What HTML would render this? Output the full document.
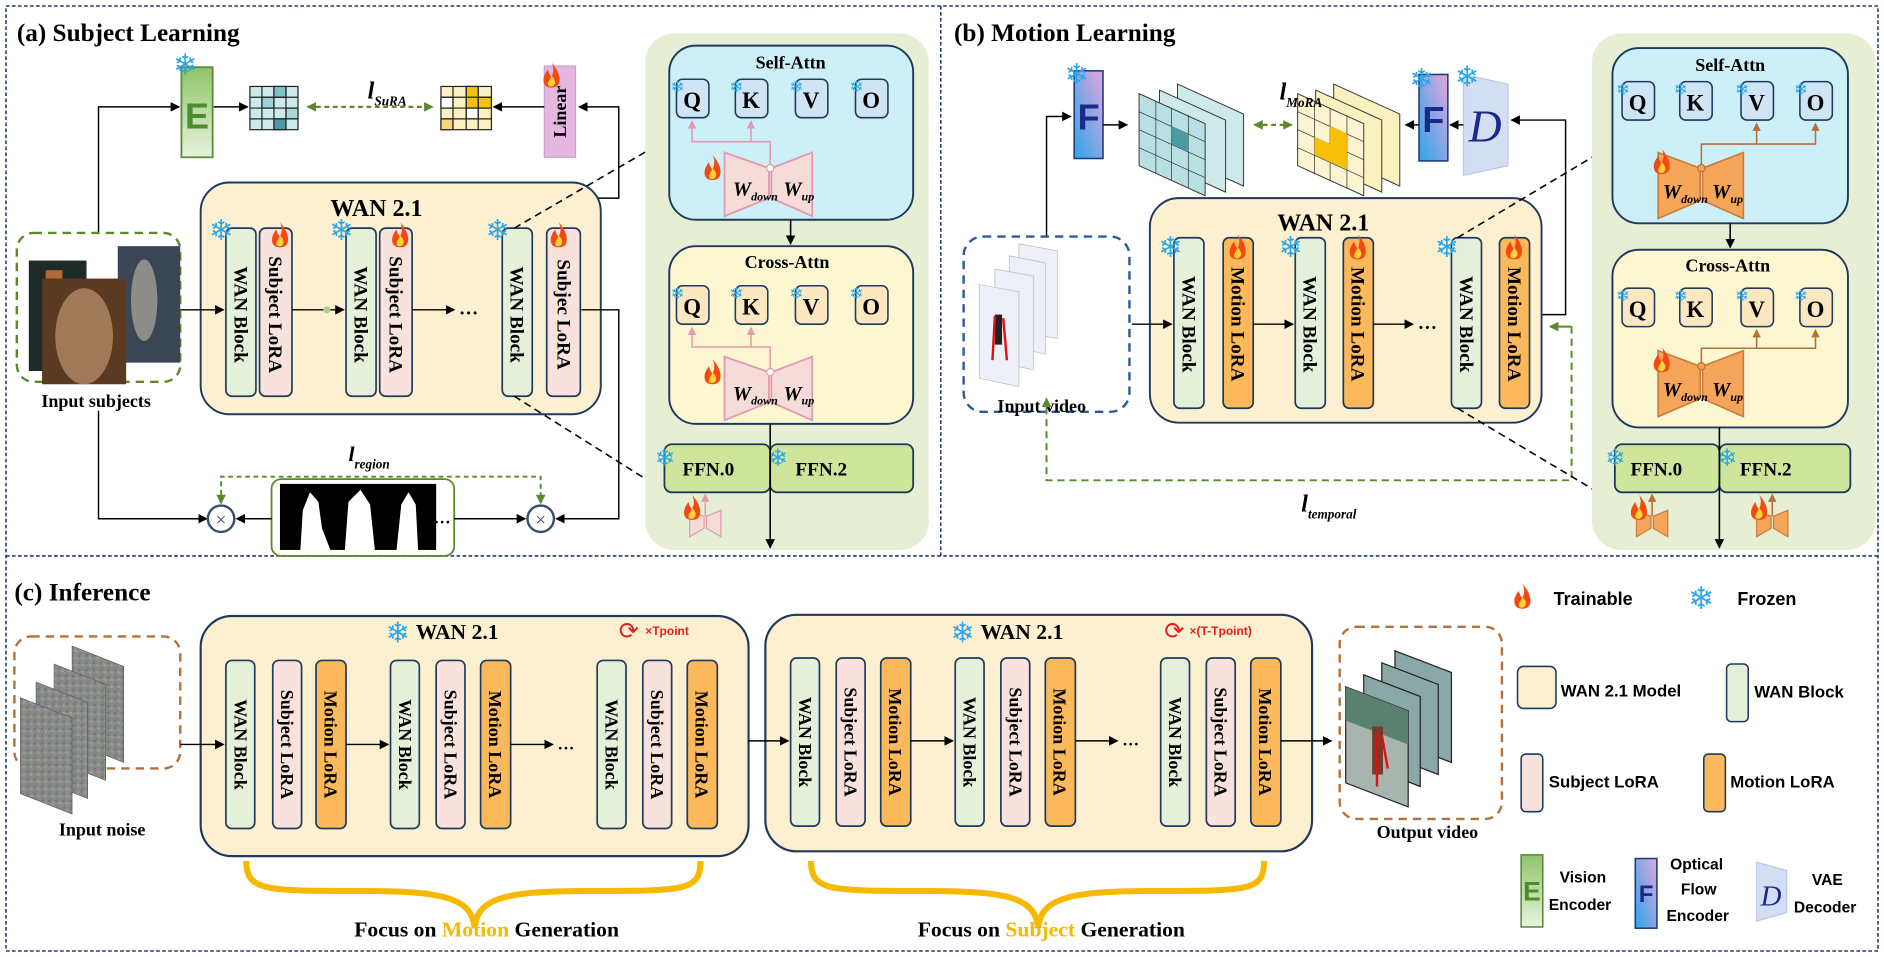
<!DOCTYPE html>
<html><head><meta charset="utf-8">
<style>
html,body{margin:0;padding:0;background:#fff;}
svg{display:block;}
.t{font-family:"Liberation Serif",serif;font-weight:bold;}
.s{font-family:"Liberation Sans",sans-serif;font-weight:bold;}
.sn{font-family:"DejaVu Sans",sans-serif;fill:#2aa6ea;}
</style></head><body>
<svg width="1884" height="957" viewBox="0 0 1568 797" preserveAspectRatio="none" xmlns="http://www.w3.org/2000/svg">
<defs>
<marker id="ar" markerWidth="8" markerHeight="8" refX="7" refY="4" orient="auto" markerUnits="userSpaceOnUse"><path d="M0,0 L8,4 L0,8 z" fill="#000"/></marker>
<marker id="ag" markerWidth="8" markerHeight="8" refX="7" refY="4" orient="auto-start-reverse" markerUnits="userSpaceOnUse"><path d="M0,0 L8,4 L0,8 z" fill="#5a8a2a"/></marker>
<marker id="ap" markerWidth="7" markerHeight="7" refX="6" refY="3.5" orient="auto" markerUnits="userSpaceOnUse"><path d="M0,0 L7,3.5 L0,7 z" fill="#e39ab0"/></marker>
<marker id="ao" markerWidth="7" markerHeight="7" refX="6" refY="3.5" orient="auto" markerUnits="userSpaceOnUse"><path d="M0,0 L7,3.5 L0,7 z" fill="#b8703a"/></marker>
<g id="fl"><path d="M0,-11 C6,-4 8,2 6,7 C4,11 -4,11 -6,7 C-8,2 -5,-2 -3,-5 C-2,-1 -1,0 0,1 C2,-3 2,-7 0,-11z" fill="#f24a12"/><path d="M0,0 C3,3 4,6 2,8 C0,10 -3,9 -3,7 C-3,5 -1,3 0,0z" fill="#ffd23a"/></g>
<linearGradient id="gF" x1="0" y1="1" x2="1" y2="0"><stop offset="0" stop-color="#2aa6ea"/><stop offset="1" stop-color="#e4a6dc"/></linearGradient>
<linearGradient id="gE" x1="0" y1="0" x2="0" y2="1"><stop offset="0" stop-color="#8fc46a"/><stop offset="1" stop-color="#e8f3dc"/></linearGradient>
<pattern id="noise" width="6" height="6" patternUnits="userSpaceOnUse"><rect width="6" height="6" fill="#8a8a8a"/><rect x="0" y="0" width="2" height="2" fill="#6a7a8a"/><rect x="3" y="2" width="2" height="2" fill="#a49a90"/><rect x="1" y="4" width="2" height="2" fill="#7a8a70"/></pattern>
</defs>

<rect x="5" y="5" width="1558" height="787" fill="none" stroke="#223a66" stroke-width="1.3" stroke-dasharray="3,2"/>
<line x1="5" y1="463" x2="1563" y2="463" stroke="#223a66" stroke-width="1.3" stroke-dasharray="3,2"/>
<line x1="783" y1="5" x2="783" y2="463" stroke="#223a66" stroke-width="1.3" stroke-dasharray="3,2"/>

<!-- ============ (a) ============ -->
<text x="14" y="34" class="t" font-size="21">(a)  Subject Learning</text>
<rect x="151" y="56" width="26" height="75" fill="url(#gE)" stroke="#5a8a3a" stroke-width="1.5"/>
<text x="164" y="107" class="s" font-size="30" fill="#4e8a2e" text-anchor="middle">E</text>
<text x="144" y="62" class="sn" font-size="24">❄</text>
<g stroke="#222" stroke-width="1">
<rect x="208" y="72" width="40" height="36" fill="#cde9ea"/>
<rect x="228" y="72" width="10" height="9" fill="#7cc4c8"/><rect x="238" y="90" width="10" height="9" fill="#a8d8da"/><rect x="218" y="81" width="10" height="9" fill="#9bd0d4"/><rect x="228" y="99" width="10" height="9" fill="#4a9ca0"/>
<line x1="218" y1="72" x2="218" y2="108"/><line x1="228" y1="72" x2="228" y2="108"/><line x1="238" y1="72" x2="238" y2="108"/>
<line x1="208" y1="81" x2="248" y2="81"/><line x1="208" y1="90" x2="248" y2="90"/><line x1="208" y1="99" x2="248" y2="99"/>
</g>
<g stroke="#222" stroke-width="1">
<rect x="367" y="72" width="42" height="36" fill="#fbf0c0"/>
<rect x="388" y="72" width="10" height="18" fill="#f7c10a"/><rect x="367" y="99" width="10" height="9" fill="#f5d57a"/><rect x="398" y="81" width="11" height="9" fill="#f7c10a"/><rect x="367" y="81" width="10" height="9" fill="#fff"/><rect x="388" y="90" width="10" height="9" fill="#fff"/>
<line x1="377" y1="72" x2="377" y2="108"/><line x1="388" y1="72" x2="388" y2="108"/><line x1="398" y1="72" x2="398" y2="108"/>
<line x1="367" y1="81" x2="409" y2="81"/><line x1="367" y1="90" x2="409" y2="90"/><line x1="367" y1="99" x2="409" y2="99"/>
</g>
<text x="306" y="82" class="t" font-size="20" font-style="italic" font-weight="normal">l<tspan font-size="11" dy="6">SuRA</tspan></text>
<line x1="256" y1="89" x2="360" y2="89" stroke="#5a8a2a" stroke-width="1.8" stroke-dasharray="4,3" marker-start="url(#ag)" marker-end="url(#ag)"/>
<rect x="453" y="55" width="26" height="76" fill="#e4b6e0" stroke="#c8a0c8"/>
<text transform="translate(466,93) rotate(-90)" class="t" font-size="15" text-anchor="middle" dy="5">Linear</text>
<use href="#fl" x="459" y="63"/>
<line x1="453" y1="89" x2="411" y2="89" stroke="#000" stroke-width="1.2" marker-end="url(#ar)"/>
<line x1="178" y1="89" x2="206" y2="89" stroke="#000" stroke-width="1.2" marker-end="url(#ar)"/>
<polyline points="82,195 82,89 149,89" fill="none" stroke="#000" stroke-width="1.2" marker-end="url(#ar)"/>
<polyline points="272,258 272,165 515,165 515,89 482,89" fill="none" stroke="#000" stroke-width="1.2" marker-end="url(#ar)"/>
<rect x="167" y="152" width="333" height="193" rx="24" fill="#fdf0d0" stroke="#1f3a5c" stroke-width="1.6"/>
<text x="275" y="180" class="t" font-size="20">WAN 2.1</text>
<g stroke="#1f3a5c" stroke-width="1.4">
<rect x="188" y="190" width="25" height="140" rx="5" fill="#e5f0db"/>
<rect x="216" y="190" width="27" height="140" rx="5" fill="#f8e2de"/>
<rect x="288" y="190" width="25" height="140" rx="5" fill="#e5f0db"/>
<rect x="316" y="190" width="27" height="140" rx="5" fill="#f8e2de"/>
<rect x="418" y="190" width="25" height="140" rx="5" fill="#e5f0db"/>
<rect x="455" y="190" width="28" height="140" rx="5" fill="#f8e2de"/>
</g>
<g class="t" font-size="16" text-anchor="middle">
<text transform="translate(200,262) rotate(90)" dy="5">WAN Block</text>
<text transform="translate(229,262) rotate(90)" dy="5">Subject LoRA</text>
<text transform="translate(300,262) rotate(90)" dy="5">WAN Block</text>
<text transform="translate(329,262) rotate(90)" dy="5">Subject LoRA</text>
<text transform="translate(430,262) rotate(90)" dy="5">WAN Block</text>
<text transform="translate(469,262) rotate(90)" dy="5">Subjec LoRA</text>
</g>
<text x="174" y="200" class="sn" font-size="24">❄</text><use href="#fl" x="233" y="196"/>
<text x="274" y="200" class="sn" font-size="24">❄</text><use href="#fl" x="333" y="196"/>
<text x="404" y="200" class="sn" font-size="24">❄</text><use href="#fl" x="465" y="196"/>
<line x1="150" y1="258" x2="186" y2="258" stroke="#000" stroke-width="1.2" marker-end="url(#ar)"/>
<line x1="243" y1="258" x2="286" y2="258" stroke="#000" stroke-width="1.2" marker-end="url(#ar)"/>
<line x1="343" y1="258" x2="378" y2="258" stroke="#000" stroke-width="1.2" marker-end="url(#ar)"/>
<text x="382" y="262" class="t" font-size="16">…</text>
<circle cx="272" cy="258" r="3" fill="#9fd88a"/>
<rect x="14" y="194" width="136" height="124" rx="14" fill="none" stroke="#5a8a2a" stroke-width="2" stroke-dasharray="7,5"/>
<rect x="98" y="205" width="52" height="97" fill="#3a4654"/><ellipse cx="120" cy="250" rx="11" ry="34" fill="#8c8c88"/>
<rect x="24" y="217" width="48" height="92" fill="#1e2a2a"/><rect x="38" y="225" width="14" height="70" fill="#b06a30"/>
<rect x="35" y="232" width="70" height="88" fill="#5a3a20"/><ellipse cx="70" cy="280" rx="24" ry="40" fill="#a07a58"/>
<text x="80" y="339" class="t" font-size="15" text-anchor="middle">Input subjects</text>
<polyline points="82,342 82,432 172,432" fill="none" stroke="#000" stroke-width="1.2" marker-end="url(#ar)"/>
<circle cx="184" cy="432" r="11" fill="#fff" stroke="#3a4e6a" stroke-width="2"/>
<text x="184" y="438" font-size="16" text-anchor="middle" fill="#3a4e6a">×</text>
<circle cx="450" cy="432" r="11" fill="#fff" stroke="#3a4e6a" stroke-width="2"/>
<text x="450" y="438" font-size="16" text-anchor="middle" fill="#3a4e6a">×</text>
<rect x="226" y="399" width="152" height="64" rx="8" fill="#fff" stroke="#5a8a2a" stroke-width="1.5"/>
<rect x="233" y="403" width="130" height="55" fill="#000"/>
<path d="M250,458 L252,425 L258,410 L265,418 L268,440 L275,458z M287,458 L290,418 L300,408 L308,420 L312,458z M330,458 L334,420 L340,410 L346,420 L348,458z" fill="#fff"/>
<text x="361" y="436" class="t" font-size="14">…</text>
<line x1="226" y1="432" x2="197" y2="432" stroke="#000" stroke-width="1.2" marker-end="url(#ar)"/>
<line x1="378" y1="432" x2="437" y2="432" stroke="#000" stroke-width="1.2" marker-end="url(#ar)"/>
<polyline points="484,258 515,258 515,432 463,432" fill="none" stroke="#000" stroke-width="1.2" marker-end="url(#ar)"/>
<polyline points="184,419 184,397 450,397 450,419" fill="none" stroke="#5a8a2a" stroke-width="1.6" stroke-dasharray="4,3" marker-start="url(#ag)" marker-end="url(#ag)"/>
<text x="290" y="384" class="t" font-size="18" font-style="italic" font-weight="normal">l<tspan font-size="11" dy="6">region</tspan></text>
<line x1="428" y1="190" x2="545" y2="122" stroke="#000" stroke-width="1.3" stroke-dasharray="6,4"/>
<line x1="428" y1="330" x2="555" y2="410" stroke="#000" stroke-width="1.3" stroke-dasharray="6,4"/>
<!-- right detail a -->
<rect x="537" y="28" width="236" height="430" rx="24" fill="#e6eed4"/>
<rect x="557" y="38" width="203" height="145" rx="22" fill="#cdf0f8" stroke="#1f3a5c" stroke-width="1.6"/>
<text x="658" y="57" class="t" font-size="15" text-anchor="middle">Self-Attn</text>
<rect x="557" y="205" width="203" height="148" rx="22" fill="#fcf7d0" stroke="#1f3a5c" stroke-width="1.6"/>
<text x="655" y="223" class="t" font-size="15" text-anchor="middle">Cross-Attn</text>
<g stroke="#1f3a5c" stroke-width="1.3">
<rect x="563" y="66" width="27" height="32" rx="5" fill="#cfe4f5"/><rect x="612" y="66" width="27" height="32" rx="5" fill="#cfe4f5"/><rect x="662" y="66" width="27" height="32" rx="5" fill="#cfe4f5"/><rect x="712" y="66" width="27" height="32" rx="5" fill="#cfe4f5"/>
<rect x="563" y="238" width="27" height="32" rx="5" fill="#fbe7c0"/><rect x="612" y="238" width="27" height="32" rx="5" fill="#fbe7c0"/><rect x="662" y="238" width="27" height="32" rx="5" fill="#fbe7c0"/><rect x="712" y="238" width="27" height="32" rx="5" fill="#fbe7c0"/>
</g>
<g class="t" font-size="19" text-anchor="middle" font-weight="normal">
<text x="576" y="90">Q</text><text x="625" y="90">K</text><text x="675" y="90">V</text><text x="725" y="90">O</text>
<text x="576" y="262">Q</text><text x="625" y="262">K</text><text x="675" y="262">V</text><text x="725" y="262">O</text>
</g>
<g font-size="14"><text x="558" y="77" class="sn">❄</text><text x="607" y="77" class="sn">❄</text><text x="657" y="77" class="sn">❄</text><text x="707" y="77" class="sn">❄</text>
<text x="558" y="249" class="sn">❄</text><text x="607" y="249" class="sn">❄</text><text x="657" y="249" class="sn">❄</text><text x="707" y="249" class="sn">❄</text></g>
<g fill="#f6dcd8" stroke="#e39ab0" stroke-width="1.5">
<path d="M603,127 L640,140 L640,165 L603,180z"/>
<path d="M642,140 L676,127 L676,180 L642,165z"/>
<path d="M603,297 L640,310 L640,335 L603,350z"/>
<path d="M642,310 L676,297 L676,350 L642,335z"/>
</g>
<polyline points="641,138 641,118 576,118 576,101" fill="none" stroke="#e39ab0" stroke-width="1.3" marker-end="url(#ap)"/>
<line x1="625" y1="118" x2="625" y2="101" stroke="#e39ab0" stroke-width="1.3" marker-end="url(#ap)"/>
<polyline points="641,308 641,289 576,289 576,273" fill="none" stroke="#e39ab0" stroke-width="1.3" marker-end="url(#ap)"/>
<line x1="625" y1="289" x2="625" y2="273" stroke="#e39ab0" stroke-width="1.3" marker-end="url(#ap)"/>
<circle cx="641" cy="140" r="3" fill="#fff" stroke="#e39ab0"/><circle cx="641" cy="310" r="3" fill="#fff" stroke="#e39ab0"/>
<g class="t" font-style="italic" font-weight="normal" font-size="17">
<text x="610" y="163">W<tspan font-size="10" dy="4">down</tspan></text><text x="652" y="163">W<tspan font-size="10" dy="4">up</tspan></text>
<text x="610" y="333">W<tspan font-size="10" dy="4">down</tspan></text><text x="652" y="333">W<tspan font-size="10" dy="4">up</tspan></text>
</g>
<use href="#fl" x="593" y="140"/><use href="#fl" x="593" y="310"/>
<line x1="658" y1="183" x2="658" y2="203" stroke="#000" stroke-width="1.3" marker-end="url(#ar)"/>
<rect x="553" y="370" width="88" height="40" rx="6" fill="#cfe59c" stroke="#1f3a5c" stroke-width="1.5"/>
<rect x="641" y="370" width="119" height="40" rx="6" fill="#cfe59c" stroke="#1f3a5c" stroke-width="1.5"/>
<text x="568" y="396" class="t" font-size="16">FFN.0</text><text x="662" y="396" class="t" font-size="16">FFN.2</text>
<text x="545" y="388" class="sn" font-size="20">❄</text><text x="639" y="388" class="sn" font-size="20">❄</text>
<line x1="641" y1="353" x2="641" y2="456" stroke="#000" stroke-width="1.3" marker-end="url(#ar)"/>
<path d="M574,425 L586,430 L586,440 L574,447z M588,430 L600,425 L600,447 L588,440z" fill="#f6dcd8" stroke="#e39ab0"/>
<line x1="587" y1="430" x2="587" y2="412" stroke="#e39ab0" stroke-width="1.3" marker-end="url(#ap)"/>
<use href="#fl" x="576" y="423"/>

<!-- ============ (b) ============ -->
<text x="794" y="34" class="t" font-size="21">(b)  Motion Learning</text>
<rect x="894" y="59" width="24" height="73" fill="url(#gF)" stroke="#1f3a7c" stroke-width="1.3"/>
<text x="906" y="108" class="s" font-size="30" fill="#1a2a8a" text-anchor="middle">F</text>
<text x="886" y="70" class="sn" font-size="24">❄</text>
<polyline points="871,197 871,97 891,97" fill="none" stroke="#000" stroke-width="1.2" marker-end="url(#ar)"/>
<line x1="918" y1="104" x2="938" y2="104" stroke="#000" stroke-width="1.2" marker-end="url(#ar)"/>
<g stroke="#333" stroke-width="0.8">
<path d="M980,70 L1035,95 L1035,155 L980,130z" fill="#cde9ea"/>
<path d="M965,80 L1020,105 L1020,165 L965,140z" fill="#cde9ea" transform="translate(0,-5)"/>
<path d="M948,88 L1003,113 L1003,173 L948,148z" fill="#b8e0e2" transform="translate(0,-10)"/>
</g>
<g stroke="#333" stroke-width="0.6" fill="none">
<path d="M948,93 L1003,118 M948,108 L1003,133 M948,123 L1003,148 M962,84 L962,145 M975,90 L975,150 M989,96 L989,157"/>
</g>
<path d="M975,105 L989,111 L989,126 L975,120z" fill="#4a9ca0"/>
<g stroke="#333" stroke-width="0.8">
<path d="M1110,70 L1165,95 L1165,155 L1110,130z" fill="#fbf0c0"/>
<path d="M1095,80 L1150,105 L1150,165 L1095,140z" fill="#fbf0c0" transform="translate(0,-5)"/>
<path d="M1080,88 L1135,113 L1135,173 L1080,148z" fill="#fcf4d0" transform="translate(0,-10)"/>
</g>
<g stroke="#333" stroke-width="0.6" fill="none">
<path d="M1080,93 L1135,118 M1080,108 L1135,133 M1080,123 L1135,148 M1094,84 L1094,145 M1107,90 L1107,150 M1121,96 L1121,157"/>
</g>
<path d="M1107,105 L1121,111 L1121,141 L1107,135z M1094,114 L1107,120 L1107,135 L1094,129z" fill="#f7c10a"/>
<text x="1065" y="83" class="t" font-size="20" font-style="italic" font-weight="normal">l<tspan font-size="11" dy="6">MoRA</tspan></text>
<line x1="1044" y1="104" x2="1075" y2="104" stroke="#5a8a2a" stroke-width="1.8" stroke-dasharray="4,3" marker-start="url(#ag)" marker-end="url(#ag)"/>
<rect x="1181" y="62" width="24" height="72" fill="url(#gF)" stroke="#1f3a7c" stroke-width="1.3"/>
<text x="1193" y="110" class="s" font-size="30" fill="#1a2a8a" text-anchor="middle">F</text>
<text x="1173" y="74" class="sn" font-size="24">❄</text>
<path d="M1218,62 L1255,70 L1255,138 L1218,146z" fill="#d4def2" stroke="#b8c8e0"/>
<text x="1236" y="118" font-family="Liberation Serif,serif" font-style="italic" font-size="38" fill="#1a2a8a" text-anchor="middle">D</text>
<text x="1211" y="72" class="sn" font-size="24">❄</text>
<line x1="1218" y1="104" x2="1207" y2="104" stroke="#000" stroke-width="1.2" marker-end="url(#ar)"/>
<line x1="1181" y1="104" x2="1170" y2="104" stroke="#000" stroke-width="1.2" marker-end="url(#ar)"/>
<polyline points="1283,262 1303,262 1303,100 1258,100" fill="none" stroke="#000" stroke-width="1.2" marker-end="url(#ar)"/>
<rect x="802" y="197" width="138" height="146" rx="16" fill="none" stroke="#2d5a9a" stroke-width="2" stroke-dasharray="7,5"/>
<g stroke="#bbb" stroke-width="0.6">
<path d="M848,203 L880,209 L880,282 L848,276z" fill="#eef0f8"/>
<path d="M840,213 L870,219 L870,295 L840,288z" fill="#eef0f8"/>
<path d="M828,224 L860,230 L860,308 L828,301z" fill="#eef0f8"/>
<path d="M815,237 L848,243 L848,322 L815,315z" fill="#eef0f8"/>
</g>
<rect x="828" y="262" width="6" height="25" fill="#222"/>
<path d="M828,263 L826,300 M835,265 L838,300" stroke="#e01010" stroke-width="2" fill="none"/>
<text x="867" y="343" class="t" font-size="15" text-anchor="middle">Input video</text>
<rect x="957" y="165" width="326" height="187" rx="24" fill="#fdf0d0" stroke="#1f3a5c" stroke-width="1.6"/>
<text x="1063" y="192" class="t" font-size="20">WAN 2.1</text>
<g stroke="#1f3a5c" stroke-width="1.4">
<rect x="977" y="198" width="25" height="142" rx="5" fill="#e5f0db"/>
<rect x="1018" y="198" width="25" height="142" rx="5" fill="#fbb95c"/>
<rect x="1078" y="198" width="25" height="142" rx="5" fill="#e5f0db"/>
<rect x="1118" y="198" width="25" height="142" rx="5" fill="#fbb95c"/>
<rect x="1208" y="198" width="25" height="142" rx="5" fill="#e5f0db"/>
<rect x="1248" y="198" width="25" height="142" rx="5" fill="#fbb95c"/>
</g>
<g class="t" font-size="16" text-anchor="middle">
<text transform="translate(989,270) rotate(90)" dy="5">WAN Block</text>
<text transform="translate(1030,270) rotate(90)" dy="5">Motion LoRA</text>
<text transform="translate(1090,270) rotate(90)" dy="5">WAN Block</text>
<text transform="translate(1130,270) rotate(90)" dy="5">Motion LoRA</text>
<text transform="translate(1220,270) rotate(90)" dy="5">WAN Block</text>
<text transform="translate(1260,270) rotate(90)" dy="5">Motion LoRA</text>
</g>
<text x="964" y="214" class="sn" font-size="24">❄</text><use href="#fl" x="1030" y="206"/>
<text x="1064" y="214" class="sn" font-size="24">❄</text><use href="#fl" x="1130" y="206"/>
<text x="1194" y="214" class="sn" font-size="24">❄</text><use href="#fl" x="1260" y="206"/>
<line x1="942" y1="270" x2="975" y2="270" stroke="#000" stroke-width="1.2" marker-end="url(#ar)"/>
<line x1="1043" y1="270" x2="1076" y2="270" stroke="#000" stroke-width="1.2" marker-end="url(#ar)"/>
<line x1="1143" y1="270" x2="1176" y2="270" stroke="#000" stroke-width="1.2" marker-end="url(#ar)"/>
<text x="1180" y="274" class="t" font-size="16">…</text>
<polyline points="1308,272 1308,400 871,400 871,332" fill="none" stroke="#5a8a2a" stroke-width="1.6" stroke-dasharray="6,4" marker-end="url(#ag)"/>
<line x1="1308" y1="272" x2="1290" y2="272" stroke="#5a8a2a" stroke-width="1.6" marker-end="url(#ag)"/>
<text x="1083" y="426" class="t" font-size="20" font-style="italic" font-weight="normal">l<tspan font-size="11" dy="6">temporal</tspan></text>
<line x1="1213" y1="198" x2="1330" y2="128" stroke="#000" stroke-width="1.3" stroke-dasharray="6,4"/>
<line x1="1213" y1="340" x2="1330" y2="410" stroke="#000" stroke-width="1.3" stroke-dasharray="6,4"/>
<rect x="1325" y="28" width="236" height="430" rx="24" fill="#e6eed4"/>
<rect x="1342" y="40" width="196" height="146" rx="22" fill="#cdf0f8" stroke="#1f3a5c" stroke-width="1.6"/>
<text x="1440" y="59" class="t" font-size="15" text-anchor="middle">Self-Attn</text>
<rect x="1342" y="208" width="196" height="148" rx="22" fill="#fcf7d0" stroke="#1f3a5c" stroke-width="1.6"/>
<text x="1438" y="226" class="t" font-size="15" text-anchor="middle">Cross-Attn</text>
<g stroke="#1f3a5c" stroke-width="1.3">
<rect x="1350" y="68" width="27" height="32" rx="5" fill="#cfe4f5"/><rect x="1398" y="68" width="27" height="32" rx="5" fill="#cfe4f5"/><rect x="1449" y="68" width="27" height="32" rx="5" fill="#cfe4f5"/><rect x="1498" y="68" width="27" height="32" rx="5" fill="#cfe4f5"/>
<rect x="1350" y="240" width="27" height="32" rx="5" fill="#fbe7c0"/><rect x="1398" y="240" width="27" height="32" rx="5" fill="#fbe7c0"/><rect x="1449" y="240" width="27" height="32" rx="5" fill="#fbe7c0"/><rect x="1498" y="240" width="27" height="32" rx="5" fill="#fbe7c0"/>
</g>
<g class="t" font-size="19" text-anchor="middle" font-weight="normal">
<text x="1363" y="92">Q</text><text x="1411" y="92">K</text><text x="1462" y="92">V</text><text x="1511" y="92">O</text>
<text x="1363" y="264">Q</text><text x="1411" y="264">K</text><text x="1462" y="264">V</text><text x="1511" y="264">O</text>
</g>
<g font-size="14"><text x="1345" y="79" class="sn">❄</text><text x="1393" y="79" class="sn">❄</text><text x="1444" y="79" class="sn">❄</text><text x="1493" y="79" class="sn">❄</text>
<text x="1345" y="251" class="sn">❄</text><text x="1393" y="251" class="sn">❄</text><text x="1444" y="251" class="sn">❄</text><text x="1493" y="251" class="sn">❄</text></g>
<g fill="#f5a55a" stroke="#c87a3a" stroke-width="1.3">
<path d="M1380,127 L1415,140 L1415,167 L1380,182z"/><path d="M1417,140 L1451,127 L1451,182 L1417,167z"/>
<path d="M1380,292 L1415,305 L1415,332 L1380,347z"/><path d="M1417,305 L1451,292 L1451,347 L1417,332z"/>
</g>
<polyline points="1416,138 1416,120 1511,120 1511,103" fill="none" stroke="#b8703a" stroke-width="1.3" marker-end="url(#ao)"/>
<line x1="1462" y1="120" x2="1462" y2="103" stroke="#b8703a" stroke-width="1.3" marker-end="url(#ao)"/>
<polyline points="1416,303 1416,290 1511,290 1511,275" fill="none" stroke="#b8703a" stroke-width="1.3" marker-end="url(#ao)"/>
<line x1="1462" y1="290" x2="1462" y2="275" stroke="#b8703a" stroke-width="1.3" marker-end="url(#ao)"/>
<circle cx="1416" cy="140" r="3" fill="#f5a55a" stroke="#b8703a"/><circle cx="1416" cy="305" r="3" fill="#f5a55a" stroke="#b8703a"/>
<g class="t" font-style="italic" font-weight="normal" font-size="17">
<text x="1384" y="165">W<tspan font-size="10" dy="4">down</tspan></text><text x="1425" y="165">W<tspan font-size="10" dy="4">up</tspan></text>
<text x="1384" y="330">W<tspan font-size="10" dy="4">down</tspan></text><text x="1425" y="330">W<tspan font-size="10" dy="4">up</tspan></text>
</g>
<use href="#fl" x="1383" y="135"/><use href="#fl" x="1383" y="300"/>
<line x1="1440" y1="186" x2="1440" y2="206" stroke="#000" stroke-width="1.3" marker-end="url(#ar)"/>
<rect x="1344" y="370" width="87" height="40" rx="6" fill="#cfe59c" stroke="#1f3a5c" stroke-width="1.5"/>
<rect x="1431" y="370" width="109" height="40" rx="6" fill="#cfe59c" stroke="#1f3a5c" stroke-width="1.5"/>
<text x="1357" y="396" class="t" font-size="16">FFN.0</text><text x="1448" y="396" class="t" font-size="16">FFN.2</text>
<text x="1336" y="388" class="sn" font-size="20">❄</text><text x="1429" y="388" class="sn" font-size="20">❄</text>
<line x1="1431" y1="356" x2="1431" y2="456" stroke="#000" stroke-width="1.3" marker-end="url(#ar)"/>
<path d="M1362,425 L1374,430 L1374,440 L1362,447z M1376,430 L1388,425 L1388,447 L1376,440z" fill="#f5a55a" stroke="#c87a3a"/>
<path d="M1462,425 L1474,430 L1474,440 L1462,447z M1476,430 L1488,425 L1488,447 L1476,440z" fill="#f5a55a" stroke="#c87a3a"/>
<line x1="1375" y1="430" x2="1375" y2="412" stroke="#b8703a" stroke-width="1.3" marker-end="url(#ao)"/>
<line x1="1475" y1="430" x2="1475" y2="412" stroke="#b8703a" stroke-width="1.3" marker-end="url(#ao)"/>
<use href="#fl" x="1364" y="423"/><use href="#fl" x="1464" y="423"/>

<!-- ============ (c) ============ -->
<text x="12" y="500" class="t" font-size="21">(c)  Inference</text>
<rect x="12" y="530" width="138" height="110" rx="14" fill="none" stroke="#b8703a" stroke-width="2" stroke-dasharray="7,5"/>
<g stroke="#555" stroke-width="0.5">
<path d="M55,563 L98,580 L98,660 L55,643z" fill="url(#noise)" transform="translate(5,-25)"/>
<path d="M45,573 L88,590 L88,670 L45,653z" fill="url(#noise)" transform="translate(0,-20)"/>
<path d="M35,583 L78,600 L78,680 L35,663z" fill="url(#noise)" transform="translate(-5,-15)"/>
<path d="M25,593 L68,610 L68,690 L25,673z" fill="url(#noise)" transform="translate(-8,-12)"/>
</g>
<text x="85" y="696" class="t" font-size="15" text-anchor="middle">Input noise</text>
<rect x="167" y="513" width="456" height="200" rx="26" fill="#fdf0d0" stroke="#1f3a5c" stroke-width="1.8"/>
<rect x="637" y="512" width="455" height="197" rx="26" fill="#fdf0d0" stroke="#1f3a5c" stroke-width="1.8"/>
<text x="321" y="535" class="sn" font-size="24">❄</text><text x="346" y="532" class="t" font-size="18">WAN 2.1</text>
<text x="791" y="535" class="sn" font-size="24">❄</text><text x="816" y="532" class="t" font-size="18">WAN 2.1</text>
<text x="515" y="532" font-size="20" fill="#e02020" font-family="DejaVu Sans,sans-serif">⟳</text>
<text x="537" y="529" class="s" font-size="10" fill="#e02020">×Tpoint</text>
<text x="969" y="532" font-size="20" fill="#e02020" font-family="DejaVu Sans,sans-serif">⟳</text>
<text x="990" y="529" class="s" font-size="10" fill="#e02020">×(T-Tpoint)</text>
<g stroke="#1f3a5c" stroke-width="1.4">
<rect x="188" y="550" width="24" height="140" rx="5" fill="#e5f0db"/><rect x="227" y="550" width="24" height="140" rx="5" fill="#f8e2de"/><rect x="263" y="550" width="25" height="140" rx="5" fill="#fbb95c"/>
<rect x="325" y="550" width="24" height="140" rx="5" fill="#e5f0db"/><rect x="363" y="550" width="24" height="140" rx="5" fill="#f8e2de"/><rect x="400" y="550" width="25" height="140" rx="5" fill="#fbb95c"/>
<rect x="497" y="550" width="24" height="140" rx="5" fill="#e5f0db"/><rect x="535" y="550" width="24" height="140" rx="5" fill="#f8e2de"/><rect x="572" y="550" width="25" height="140" rx="5" fill="#fbb95c"/>
<rect x="658" y="548" width="24" height="140" rx="5" fill="#e5f0db"/><rect x="696" y="548" width="24" height="140" rx="5" fill="#f8e2de"/><rect x="733" y="548" width="25" height="140" rx="5" fill="#fbb95c"/>
<rect x="795" y="548" width="24" height="140" rx="5" fill="#e5f0db"/><rect x="833" y="548" width="24" height="140" rx="5" fill="#f8e2de"/><rect x="870" y="548" width="25" height="140" rx="5" fill="#fbb95c"/>
<rect x="966" y="548" width="24" height="140" rx="5" fill="#e5f0db"/><rect x="1004" y="548" width="24" height="140" rx="5" fill="#f8e2de"/><rect x="1041" y="548" width="25" height="140" rx="5" fill="#fbb95c"/>
</g>
<g class="t" font-size="15" text-anchor="middle">
<text transform="translate(200,620) rotate(90)" dy="5">WAN Block</text><text transform="translate(239,620) rotate(90)" dy="5">Subject LoRA</text><text transform="translate(275,620) rotate(90)" dy="5">Motion LoRA</text>
<text transform="translate(337,620) rotate(90)" dy="5">WAN Block</text><text transform="translate(375,620) rotate(90)" dy="5">Subject LoRA</text><text transform="translate(412,620) rotate(90)" dy="5">Motion LoRA</text>
<text transform="translate(509,620) rotate(90)" dy="5">WAN Block</text><text transform="translate(547,620) rotate(90)" dy="5">Subject LoRA</text><text transform="translate(584,620) rotate(90)" dy="5">Motion LoRA</text>
<text transform="translate(670,618) rotate(90)" dy="5">WAN Block</text><text transform="translate(708,618) rotate(90)" dy="5">Subject LoRA</text><text transform="translate(745,618) rotate(90)" dy="5">Motion LoRA</text>
<text transform="translate(807,618) rotate(90)" dy="5">WAN Block</text><text transform="translate(845,618) rotate(90)" dy="5">Subject LoRA</text><text transform="translate(882,618) rotate(90)" dy="5">Motion LoRA</text>
<text transform="translate(978,618) rotate(90)" dy="5">WAN Block</text><text transform="translate(1016,618) rotate(90)" dy="5">Subject LoRA</text><text transform="translate(1053,618) rotate(90)" dy="5">Motion LoRA</text>
</g>
<g stroke="#000" stroke-width="1.2">
<line x1="150" y1="620" x2="186" y2="620" marker-end="url(#ar)"/>
<line x1="288" y1="620" x2="323" y2="620" marker-end="url(#ar)"/>
<line x1="425" y1="620" x2="460" y2="620" marker-end="url(#ar)"/>
<line x1="623" y1="617" x2="656" y2="617" marker-end="url(#ar)"/>
<line x1="758" y1="617" x2="793" y2="617" marker-end="url(#ar)"/>
<line x1="895" y1="617" x2="930" y2="617" marker-end="url(#ar)"/>
<line x1="1066" y1="617" x2="1108" y2="617" marker-end="url(#ar)"/>
</g>
<text x="464" y="624" class="t" font-size="14">…</text><text x="934" y="621" class="t" font-size="14">…</text>
<rect x="1115" y="522" width="135" height="160" rx="14" fill="none" stroke="#b8703a" stroke-width="2" stroke-dasharray="7,5"/>
<g stroke="#222" stroke-width="1">
<path d="M1153,542 L1200,560 L1200,635 L1153,617z" fill="#8aa8a8" transform="translate(8,0)"/>
<path d="M1145,552 L1192,570 L1192,645 L1145,627z" fill="#8aa8a8" transform="translate(5,0)"/>
<path d="M1135,562 L1182,580 L1182,655 L1135,637z" fill="#8aa8a8"/>
<path d="M1120,572 L1172,592 L1172,672 L1120,652z" fill="#a8b4ae"/>
</g>
<path d="M1120,572 L1172,592 L1172,620 L1120,600z" fill="#5a8070"/>
<rect x="1142" y="605" width="9" height="40" fill="#7a3a2a"/>
<path d="M1146,610 L1146,655 M1150,612 L1155,640" stroke="#e01010" stroke-width="2"/>
<text x="1188" y="698" class="t" font-size="15" text-anchor="middle">Output video</text>
<path d="M205,717 C205,742 220,742 300,742 C370,742 393,748 395,773 C397,748 420,742 490,742 C570,742 583,742 583,717" fill="none" stroke="#f7b800" stroke-width="5"/>
<path d="M675,717 C675,742 690,742 770,742 C840,742 862,748 864,773 C866,748 890,742 960,742 C1040,742 1052,742 1052,717" fill="none" stroke="#f7b800" stroke-width="5"/>
<text x="405" y="780" class="t" font-size="18" text-anchor="middle">Focus on <tspan fill="#f7b800">Motion</tspan> Generation</text>
<text x="875" y="780" class="t" font-size="18" text-anchor="middle">Focus on <tspan fill="#f7b800">Subject</tspan> Generation</text>
<use href="#fl" x="1267" y="497"/>
<text x="1293" y="504" class="s" font-size="15">Trainable</text>
<text x="1405" y="507" class="sn" font-size="26">❄</text>
<text x="1446" y="504" class="s" font-size="15">Frozen</text>
<rect x="1263" y="555" width="32" height="35" rx="5" fill="#fdf0d0" stroke="#1f3a5c" stroke-width="1.3"/>
<text x="1299" y="580" class="s" font-size="14">WAN 2.1 Model</text>
<rect x="1437" y="553" width="18" height="48" rx="4" fill="#e5f0db" stroke="#1f3a5c" stroke-width="1.3"/>
<text x="1460" y="581" class="s" font-size="14">WAN Block</text>
<rect x="1266" y="628" width="18" height="48" rx="4" fill="#f8e2de" stroke="#1f3a5c" stroke-width="1.3"/>
<text x="1289" y="656" class="s" font-size="14">Subject LoRA</text>
<rect x="1418" y="628" width="18" height="48" rx="4" fill="#fbb95c" stroke="#1f3a5c" stroke-width="1.3"/>
<text x="1440" y="656" class="s" font-size="14">Motion LoRA</text>
<rect x="1266" y="712" width="18" height="60" fill="url(#gE)" stroke="#5a8a3a" stroke-width="1.3"/>
<text x="1275" y="750" class="s" font-size="22" fill="#4e8a2e" text-anchor="middle">E</text>
<text x="1298" y="735" class="s" font-size="13">Vision</text><text x="1289" y="758" class="s" font-size="13">Encoder</text>
<rect x="1361" y="715" width="18" height="58" fill="url(#gF)" stroke="#1f3a7c" stroke-width="1.3"/>
<text x="1370" y="751" class="s" font-size="20" fill="#1a2a8a" text-anchor="middle">F</text>
<text x="1390" y="724" class="s" font-size="13">Optical</text><text x="1399" y="745" class="s" font-size="13">Flow</text><text x="1387" y="767" class="s" font-size="13">Encoder</text>
<path d="M1462,718 L1487,725 L1487,760 L1462,767z" fill="#d4def2" stroke="#b8c8e0"/>
<text x="1474" y="754" font-family="Liberation Serif,serif" font-style="italic" font-size="24" fill="#1a2a8a" text-anchor="middle">D</text>
<text x="1508" y="737" class="s" font-size="13">VAE</text><text x="1493" y="760" class="s" font-size="13">Decoder</text>
</svg>
</body></html>
